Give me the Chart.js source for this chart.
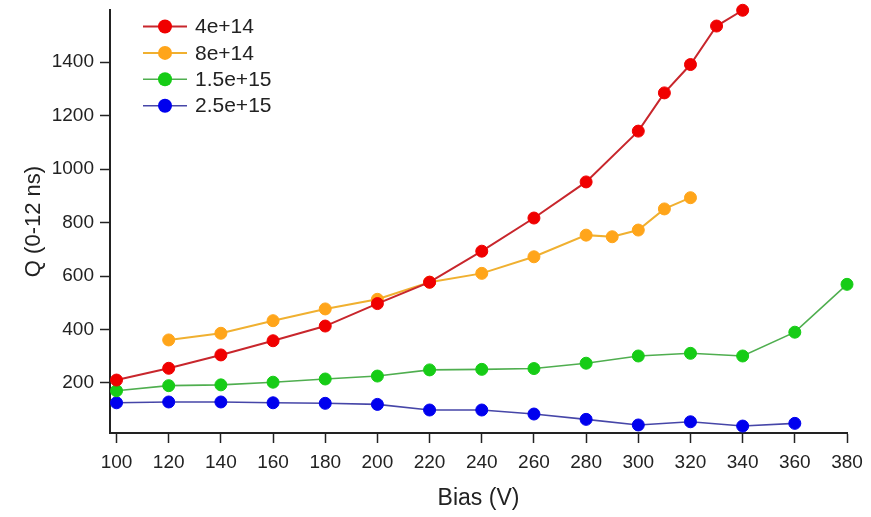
<!DOCTYPE html>
<html>
<head>
<meta charset="utf-8">
<script src="https://cdn.jsdelivr.net/npm/chart.js@4.4.1/dist/chart.umd.min.js"></script>
<style>
    html, body { margin: 0; padding: 0; background: #fff; }
    canvas { display: block; }
</style>
</head>
<body>
<canvas id="qChart" width="871" height="517"></canvas>
<script>
// Collected charge vs bias, one series per fluence
const biasA = [100, 120, 140, 160, 180, 200, 220, 240, 260, 280, 300, 310, 320, 330, 340];
const qA = [211, 255, 305, 358, 413, 497, 577, 693, 817, 952, 1142, 1285, 1391, 1535, 1594];

const biasB = [120, 140, 160, 180, 200, 220, 240, 260, 280, 290, 300, 310, 320];
const qB = [361, 386, 433, 477, 513, 577, 610, 672, 753, 747, 772, 851, 893];

const biasC = [100, 120, 140, 160, 180, 200, 220, 240, 260, 280, 300, 320, 340, 360, 380];
const qC = [171, 190, 193, 203, 215, 226, 249, 251, 254, 274, 301, 311, 301, 390, 569];

const biasD = [100, 120, 140, 160, 180, 200, 220, 240, 260, 280, 300, 320, 340, 360];
const qD = [126, 129, 129, 126, 124, 120, 99, 99, 84, 64, 43, 55, 39, 49];

const fluences = ['4e+14', '8e+14', '1.5e+15', '2.5e+15'];

// axis tick positions
const xTicks = [100, 120, 140, 160, 180, 200, 220, 240, 260, 280, 300, 320, 340, 360, 380];
const yTicks = [200, 400, 600, 800, 1000, 1200, 1400];

const FONT = "'Liberation Sans', Arial, sans-serif";
const INK = '#222';

const toPoints = (xs, ys) => xs.map((x, i) => ({ x: x, y: ys[i] }));

function series(label, xs, ys, lineColor, markColor, lineWidth) {
    return {
        label: label,
        data: toPoints(xs, ys),
        borderColor: lineColor,
        borderWidth: lineWidth,
        pointBackgroundColor: markColor,
        pointBorderColor: markColor,
        pointBorderWidth: 1,
        pointRadius: 6,
        tension: 0,
        clip: false
    };
}

// Legend box in the upper left corner: line + marker + label
const cornerLegend = {
    id: 'cornerLegend',
    afterDraw(chart) {
        const ctx = chart.ctx;
        ctx.save();
        chart.data.datasets.forEach((ds, i) => {
            const y = 26.5 + i * 26.4;
            ctx.strokeStyle = ds.borderColor;
            ctx.lineWidth = ds.borderWidth;
            ctx.beginPath();
            ctx.moveTo(143, y);
            ctx.lineTo(187, y);
            ctx.stroke();
            ctx.fillStyle = ds.pointBackgroundColor;
            ctx.beginPath();
            ctx.arc(165, y, 7, 0, Math.PI * 2);
            ctx.fill();
            ctx.fillStyle = INK;
            ctx.font = `21px ${FONT}`;
            ctx.textBaseline = 'middle';
            ctx.textAlign = 'left';
            ctx.fillText(ds.label, 195, y + 1);
        });
        ctx.restore();
    }
};

new Chart(document.getElementById('qChart'), {
    type: 'line',
    data: {
        datasets: [
            series(fluences[0], biasA, qA, '#c8262c', '#f00000', 2),
            series(fluences[1], biasB, qB, '#f0b030', '#ffa51a', 2),
            series(fluences[2], biasC, qC, '#4fae4f', '#16cc16', 1.6),
            series(fluences[3], biasD, qD, '#4646a8', '#0000ee', 1.6)
        ]
    },
    options: {
        responsive: false,
        animation: false,
        layout: { padding: { top: 10, right: 24, left: 0, bottom: 0 } },
        plugins: {
            legend: { display: false },
            tooltip: { enabled: false }
        },
        scales: {
            x: {
                type: 'linear',
                min: 97.5,
                max: 380,
                afterFit: s => { s.height = 84; s.paddingLeft = 0; s.paddingRight = 0; },
                afterBuildTicks: s => { s.ticks = xTicks.map(v => ({ value: v })); },
                border: { color: INK, width: 2 },
                grid: { drawOnChartArea: false, tickLength: 10, tickColor: INK, tickWidth: 1.5 },
                ticks: {
                    padding: 8,
                    color: INK,
                    font: { family: FONT, size: 19 }
                },
                title: {
                    display: true,
                    text: 'Bias (V)',
                    color: INK,
                    font: { family: FONT, size: 23 },
                    padding: { top: 0, bottom: 5 }
                }
            },
            y: {
                type: 'linear',
                min: 13,
                max: 1595,
                afterFit: s => { s.width = 110; s.paddingTop = 0; s.paddingBottom = 0; },
                afterBuildTicks: s => { s.ticks = yTicks.map(v => ({ value: v })); },
                border: { color: INK, width: 2 },
                grid: { drawOnChartArea: false, tickLength: 10, tickColor: INK, tickWidth: 1.5 },
                ticks: {
                    padding: 6,
                    color: INK,
                    font: { family: FONT, size: 19 },
                    callback: v => String(v)
                },
                title: {
                    display: true,
                    text: 'Q (0-12 ns)',
                    color: INK,
                    font: { family: FONT, size: 22 },
                    padding: { top: 21, bottom: 0 }
                }
            }
        }
    },
    plugins: [cornerLegend]
});
</script>
</body>
</html>
